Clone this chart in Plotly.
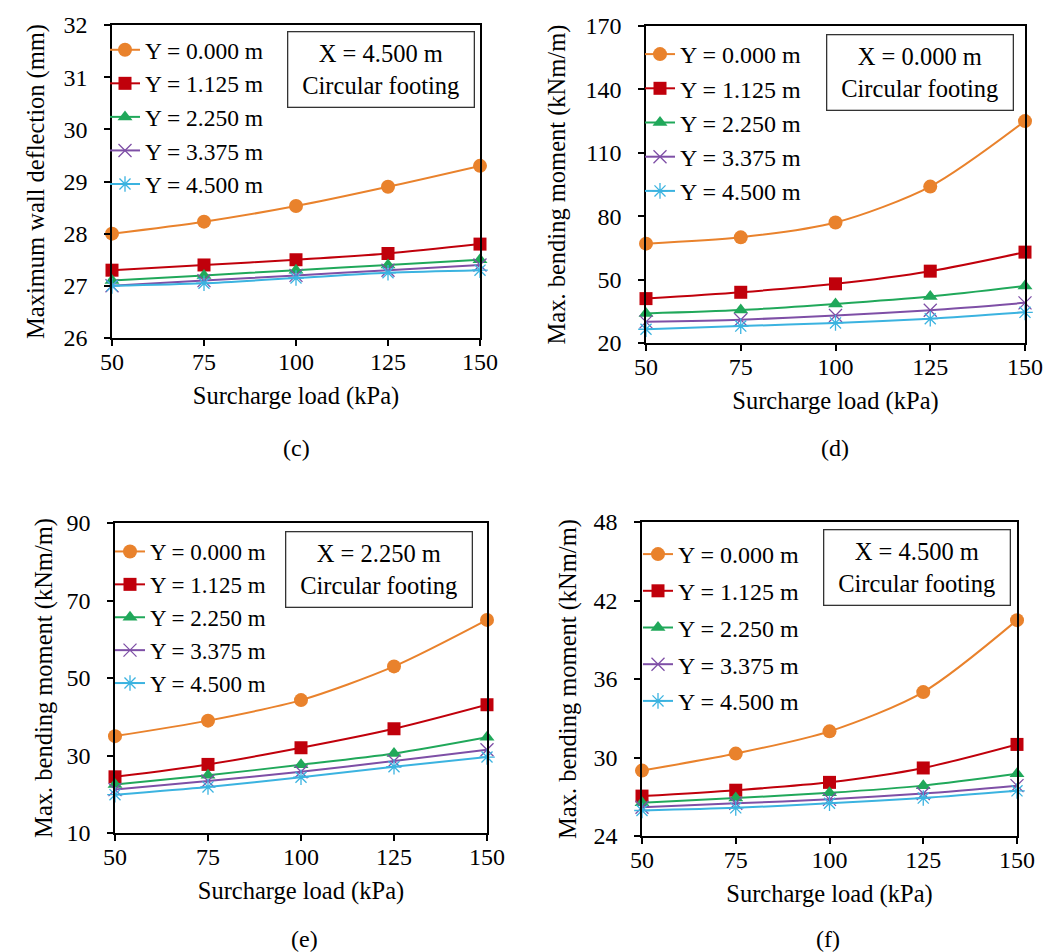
import plotly.graph_objects as go

# ---------------- data ----------------
loads = [50, 75, 100, 125, 150]
series_names = ["Y = 0.000 m", "Y = 1.125 m", "Y = 2.250 m", "Y = 3.375 m", "Y = 4.500 m"]

# (c) maximum wall deflection (mm), X = 4.500 m
c_y0 = [28.0, 28.23, 28.53, 28.9, 29.3]
c_y1 = [27.3, 27.4, 27.5, 27.62, 27.8]
c_y2 = [27.1, 27.2, 27.3, 27.4, 27.5]
c_y3 = [27.0, 27.1, 27.2, 27.3, 27.4]
c_y4 = [27.0, 27.05, 27.15, 27.25, 27.3]

# (d) max bending moment (kNm/m), X = 0.000 m
d_y0 = [67, 70, 77, 94, 125]
d_y1 = [41, 44, 48, 54, 63]
d_y2 = [34, 35.6, 38.5, 42, 47]
d_y3 = [30, 31, 33, 35.5, 39]
d_y4 = [26.5, 28, 29.5, 31.5, 34.5]

# (e) max bending moment (kNm/m), X = 2.250 m
e_y0 = [35, 39, 44.3, 53, 65]
e_y1 = [24.5, 27.7, 32, 36.9, 43.1]
e_y2 = [22.5, 24.9, 27.6, 30.5, 34.7]
e_y3 = [21.2, 23.4, 25.8, 28.6, 31.5]
e_y4 = [19.9, 21.9, 24.4, 27.1, 29.6]

# (f) max bending moment (kNm/m), X = 4.500 m
f_y0 = [29.0, 30.3, 32.0, 35.0, 40.5]
f_y1 = [27.05, 27.5, 28.1, 29.2, 31.0]
f_y2 = [26.55, 26.9, 27.3, 27.85, 28.75]
f_y3 = [26.2, 26.5, 26.8, 27.25, 27.85]
f_y4 = [25.95, 26.15, 26.5, 26.9, 27.45]

x_ticks = [50, 75, 100, 125, 150]
x_title = "Surcharge load (kPa)"
y_titles = ["Maximum wall deflection (mm)", "Max. bending moment (kNm/m)",
            "Max. bending moment (kNm/m)", "Max. bending moment (kNm/m)"]
box_texts = ["X = 4.500 m<br>Circular footing", "X = 0.000 m<br>Circular footing",
             "X = 2.250 m<br>Circular footing", "X = 4.500 m<br>Circular footing"]
panel_labels = ["(c)", "(d)", "(e)", "(f)"]
y_ranges = [[26, 32], [20, 170], [10, 90], [24, 48]]
y_tick0 = [26, 20, 10, 24]
y_dticks = [1, 30, 20, 6]

# ---------------- styles ----------------
W, H = 1061, 952
FONT = "Liberation Serif"
colors = ["#E9822C", "#C0000B", "#20A85A", "#7E4FA6", "#3BB3E0"]
symbols = ["circle", "square", "triangle-up", "x-thin", "asterisk"]
msizes = [14, 13, 13, 13, 13]

# plot-area pixel boxes (left, right, top, bottom)
boxes = [(104, 472, 17, 330), (638, 1017, 18, 335),
         (107, 479, 515, 825), (634, 1009, 514, 828)]
# legend: left px, top px, group gap, font size
legend_pos = [(97, 20, 0, 23.5), (632, 24, 0, 24), (102, 522, 0, 23), (630, 524, 2.5, 24)]
box_ann = [(372.5, 62), (911.5, 65), (371.3, 561), (908.8, 559.4)]
label_pos = [(288, 440), (826.7, 440), (296.7, 931), (820, 931)]
y_standoff = [12, 13, 7, 10]
NBSP2 = "\u00a0\u00a0"

panels = [
    [c_y0, c_y1, c_y2, c_y3, c_y4],
    [d_y0, d_y1, d_y2, d_y3, d_y4],
    [e_y0, e_y1, e_y2, e_y3, e_y4],
    [f_y0, f_y1, f_y2, f_y3, f_y4],
]

fig = go.Figure()
layout = dict(
    width=W, height=H, margin=dict(l=0, r=0, t=0, b=0, autoexpand=False),
    paper_bgcolor="white", plot_bgcolor="white",
    font=dict(family=FONT, size=24, color="black"),
    showlegend=True, annotations=[],
)

for i, series in enumerate(panels):
    n = "" if i == 0 else str(i + 1)
    leg = "legend" if i == 0 else f"legend{i + 1}"
    for k, vals in enumerate(series):
        open_sym = symbols[k] in ("x-thin", "asterisk")
        fig.add_trace(go.Scatter(
            x=loads, y=vals, name=series_names[k],
            mode="lines+markers",
            line=dict(color=colors[k], width=2, shape="spline", smoothing=0.8),
            marker=dict(symbol=symbols[k], size=msizes[k], color=colors[k],
                        line=dict(color=colors[k], width=1.3 if open_sym else 0)),
            xaxis="x" + n, yaxis="y" + n, legend=leg,
            legendgroup=f"p{i}s{k}", cliponaxis=False,
        ))
    l, r, t, b = boxes[i]
    common = dict(showline=True, mirror=True, linecolor="black", linewidth=1.5,
                  ticks="outside", ticklen=6, tickwidth=1.5, tickcolor="black",
                  showgrid=False, zeroline=False, automargin=False,
                  tickfont=dict(family=FONT, size=24, color="black"))
    layout["xaxis" + n] = dict(
        common, domain=[l / W, r / W], range=[50, 150], tickvals=x_ticks,
        anchor="y" + n, ticklabelstandoff=-5,
        title=dict(text=x_title, standoff=13, font=dict(family=FONT, size=24.5)),
    )
    layout["yaxis" + n] = dict(
        common, domain=[1 - b / H, 1 - t / H], range=y_ranges[i],
        tick0=y_tick0[i], dtick=y_dticks[i], ticksuffix=NBSP2,
        anchor="x" + n,
        title=dict(text=y_titles[i], standoff=y_standoff[i], font=dict(family=FONT, size=24.5)),
    )
    lx, ly, gap, lfs = legend_pos[i]
    layout[leg] = dict(
        x=lx / W, y=1 - ly / H, xanchor="left", yanchor="top",
        xref="paper", yref="paper",
        bgcolor="rgba(0,0,0,0)", borderwidth=0,
        font=dict(family=FONT, size=lfs, color="black"),
        traceorder="grouped", tracegroupgap=gap,
    )
    bx, by = box_ann[i]
    layout["annotations"].append(dict(
        x=bx / W, y=1 - by / H, xref="paper", yref="paper",
        xanchor="center", yanchor="middle", showarrow=False,
        text=box_texts[i], align="center",
        font=dict(family=FONT, size=24.5, color="black"),
        bordercolor="#333333", borderwidth=1.3, borderpad=1,
        width=183, height=72, bgcolor="white",
    ))
    px, py = label_pos[i]
    layout["annotations"].append(dict(
        x=px / W, y=1 - py / H, xref="paper", yref="paper",
        xanchor="center", yanchor="middle", showarrow=False,
        text=panel_labels[i], font=dict(family=FONT, size=24, color="black"),
    ))

fig.update_layout(**layout)
fig.write_html("out.html")
